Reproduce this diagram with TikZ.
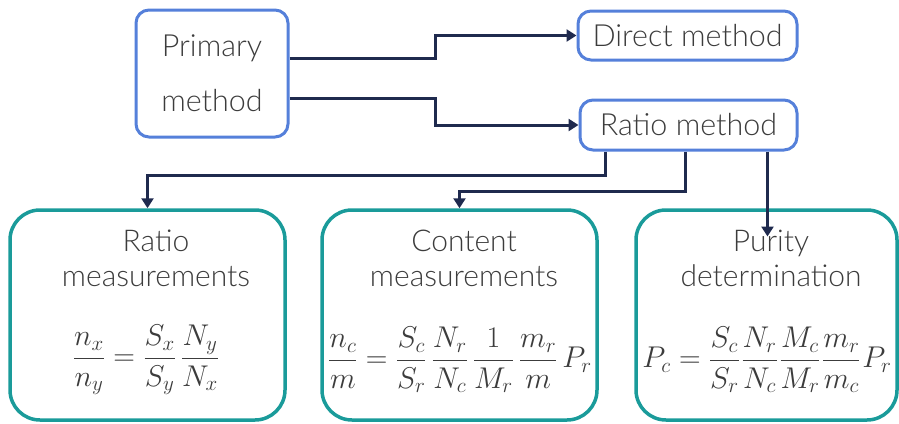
\documentclass[tikz,border=0pt]{standalone}
\usepackage{fix-cm}
\usepackage[no-math]{fontspec}
\setmainfont{Lato Light}
\usetikzlibrary{arrows.meta,calc}
\definecolor{bluebd}{HTML}{5580DA}
\definecolor{tealbd}{HTML}{1A9B9A}
\definecolor{arrowc}{HTML}{1F2A4E}
\definecolor{txt}{HTML}{3C3C3C}
\begin{document}
\begin{tikzpicture}[x=1pt,y=-1pt,
  topbox/.style={draw=bluebd, line width=3pt, rounded corners=13pt, text=txt, inner sep=0pt, align=center, font=\fontsize{30.5}{55}\selectfont},
  botbox/.style={draw=tealbd, line width=3.5pt, rounded corners=30pt, inner sep=0pt, minimum height=210pt},
  title/.style={text=txt, align=center, font=\fontsize{30}{35}\selectfont},
  formula/.style={text=txt, font=\fontsize{30}{36}\selectfont},
  conn/.style={draw=arrowc, line width=3pt, -{Triangle[length=10pt,width=12pt]}}]
\useasboundingbox (0,0) rectangle (899,423);
% top boxes
\node[topbox, minimum width=152pt, minimum height=127pt] (prim) at (212,73.5) {Primary\\method};
\node[topbox, minimum width=219pt, minimum height=49pt] (dir) at (687.5,35.5) {Direct method};
\node[topbox, minimum width=217pt, minimum height=50pt] (rat) at (688.5,125) {Ratio method};
% bottom boxes
\node[botbox, minimum width=275pt] (rm) at (147.5,315) {};
\node[botbox, minimum width=275pt] (cm) at (459.5,315) {};
\node[botbox, minimum width=261pt] (pm) at (766.5,315) {};
% titles
\node[title] (rmt) at (156,258) {Ratio\\measurements};
\node[title] (cmt) at (464,258) {Content\\measurements};
\node[title] (pmt) at (771,258) {Purity\\determination};
% formulas
\node[formula] (rmf) at (146,360) {$\displaystyle \frac{n_x}{n_y}=\frac{S_x}{S_y}\,\frac{N_y}{N_x}$};
\node[formula] (cmf) at (460,360) {$\displaystyle \frac{n_c}{m}=\frac{S_c}{S_r}\,\frac{N_r}{N_c}\,\frac{1}{M_r}\,\frac{m_r}{m}\,P_r$};
\node[formula] (pmf) at (767,360) {$\displaystyle P_c=\frac{S_c}{S_r}\mkern1mu\frac{N_r}{N_c}\mkern1mu\frac{M_c}{M_r}\mkern1mu\frac{m_r}{m_c}\mkern1mu P_r$};
% connectors
\draw[conn] ($(prim.east)+(0,-15.5)$) -- ++(146,0) |- (dir.west);
\draw[conn] ($(prim.east)+(0,24.5)$) -- ++(146,0) |- (rat.west);
\draw[conn] ($(rat.south west)+(27,0)$) -- ++(0,24) -| (rm.north);
\draw[conn] ($(rat.south west)+(107,0)$) -- ++(0,40) -| (cm.north);
\draw[conn] ($(rat.south west)+(189,0)$) -- ($(rat.south west)+(189,85)$);
\end{tikzpicture}
\end{document}
